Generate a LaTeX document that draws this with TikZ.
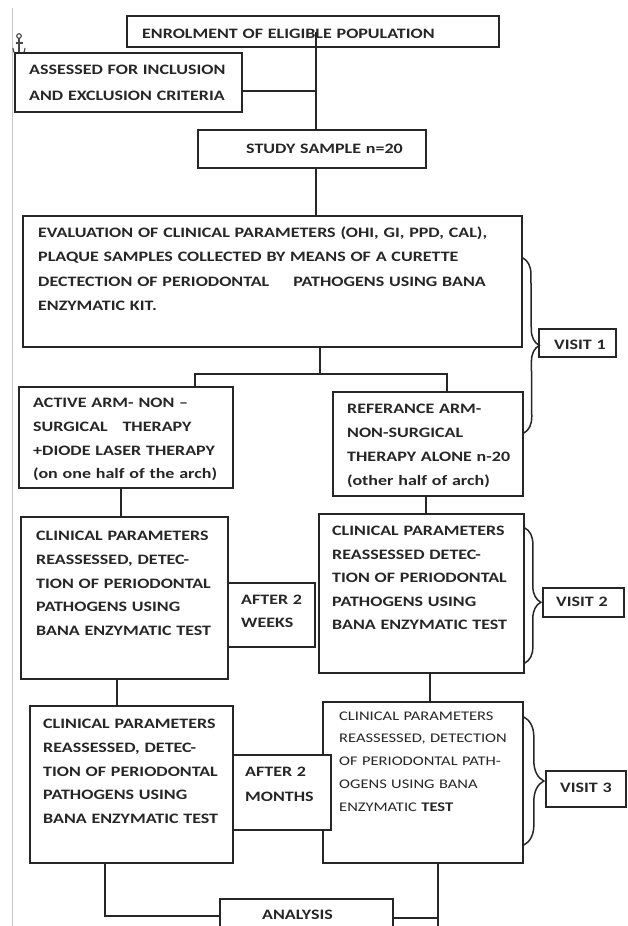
\documentclass[tikz,border=0pt]{standalone}
\usepackage{fontspec}
\setmainfont{Carlito}[FakeStretch=1.25]
\usetikzlibrary{fit,decorations.pathreplacing}
\definecolor{ink}{HTML}{262626}
\newcommand\myfont[2]{\fontsize{#1}{#2}\selectfont\bfseries}
\newcommand\myreg[2]{\fontsize{#1}{#2}\selectfont\mdseries}
\tikzset{
  box/.style={draw=ink, line width=1.7pt, inner sep=0pt, fill=white},
  txt/.style={inner sep=0pt, anchor=base west, text width=480pt, align=left, text=ink},
  conn/.style={draw=ink, line width=1.7pt},
  brc/.style={draw=ink, line width=1.5pt, decorate, decoration={brace, amplitude=#1}},
  brc/.default=16pt
}
\begin{document}
\begin{tikzpicture}[x=1pt,y=-1pt]
\useasboundingbox[fill=white] (0,0) rectangle (628,926);
% page margin line and anchor mark
\draw[gray!45, line width=0.8pt] (12.5,8) -- (12.5,926);
\begin{scope}[draw=ink!85, line width=1.1pt]
  \draw (19,36) circle[radius=2.3pt];
  \draw (19,38.3) -- (19,55);
  \draw (15.5,43) -- (22.5,43);
  \draw (13,48) .. controls (13,53) and (16,55) .. (19,55) .. controls (22,55) and (25,53) .. (25,48);
\end{scope}

% boxes
\node[box, fit={(127,16)(499,47)}] (enrol) {};
\node[box, fit={(15,53)(242,112)}] (assess) {};
\node[box, fit={(198,130)(426,168)}] (study) {};
\node[box, fit={(23,216)(522,347)}] (eval) {};
\node[box, fit={(539,329)(616,357)}] (visit1) {};
\node[box, fit={(19,387)(233,488)}] (active) {};
\node[box, fit={(333,392)(523,496)}] (ref) {};
\node[box, fit={(21,517)(228,679)}] (left2) {};
\node[box, fit={(228,583)(315,647)}] (weeks) {};
\node[box, fit={(319,514)(524,673)}] (right2) {};
\node[box, fit={(543,588)(624,617)}] (visit2) {};
\node[box, fit={(30,706)(233,863)}] (left3) {};
\node[box, fit={(323,702)(523,863)}] (right3) {};
\node[box, fit={(233,755)(331,830)}] (months) {};
\node[box, fit={(546,771)(626,807)}] (visit3) {};
\node[box, fit={(220,899)(393,940)}] (analysis) {};

% texts
\node[txt, font=\myfont{14.4}{24}] (tenrol) at (142,38) {ENROLMENT OF ELIGIBLE POPULATION};
\node[txt, font=\myfont{14.4}{26}] (tassess) at (29,74.6) {ASSESSED FOR INCLUSION\\AND EXCLUSION CRITERIA};
\node[txt, font=\myfont{14.4}{24}] (tstudy) at (246,153.6) {STUDY SAMPLE n=20};
\node[txt, font=\myfont{14.4}{24.3}] (teval) at (38,237.6) {EVALUATION OF CLINICAL PARAMETERS (OHI, GI, PPD, CAL),\\PLAQUE SAMPLES COLLECTED BY MEANS OF A CURETTE\\DECTECTION OF PERIODONTAL\hspace{24pt}PATHOGENS USING BANA\\ENZYMATIC KIT.};
\node[txt, font=\myfont{14.4}{24}] (tvisit1) at (554,349.6) {VISIT 1};
\node[txt, font=\myfont{14.4}{23.7}] (tactive) at (33,407.6) {ACTIVE ARM- NON --\\SURGICAL\hspace{10pt} THERAPY\\+DIODE LASER THERAPY\\(on one half of the arch)};
\node[txt, font=\myfont{14.4}{24}] (tref) at (347,413.6) {REFERANCE ARM-\\NON-SURGICAL\\THERAPY ALONE n-20\\(other half of arch)};
\node[txt, font=\myfont{14.4}{23.75}] (tleft2) at (36,540.6) {CLINICAL PARAMETERS\\REASSESSED, DETEC-\\TION OF PERIODONTAL\\PATHOGENS USING\\BANA ENZYMATIC TEST};
\node[txt, font=\myfont{14.4}{23}] (tweeks) at (241,604.6) {AFTER 2\\WEEKS};
\node[txt, font=\myfont{14.4}{23.5}] (tright2) at (332,535.6) {CLINICAL PARAMETERS\\REASSESSED DETEC-\\TION OF PERIODONTAL\\PATHOGENS USING\\BANA ENZYMATIC TEST};
\node[txt, font=\myfont{14.4}{24}] (tvisit2) at (556,606.6) {VISIT 2};
\node[txt, font=\myfont{14.4}{23.75}] (tleft3) at (43,728.6) {CLINICAL PARAMETERS\\REASSESSED, DETEC-\\TION OF PERIODONTAL\\PATHOGENS USING\\BANA ENZYMATIC TEST};
\node[txt, font=\myfont{14.4}{25}] (tmonths) at (245,776.6) {AFTER 2\\MONTHS};
\node[txt, font=\myreg{13.2}{22.75}] (tright3) at (339,720.2) {CLINICAL PARAMETERS\\REASSESSED, DETECTION\\OF PERIODONTAL PATH-\\OGENS USING BANA\\ENZYMATIC \textbf{TEST}};
\node[txt, font=\myfont{14.4}{24}] (tvisit3) at (560,792.6) {VISIT 3};
\node[txt, font=\myfont{14.4}{24}] (tanal) at (262,919.6) {ANALYSIS};

% connectors
\coordinate (j1) at (316,91);
\coordinate (s1) at (320,374);
\coordinate (s2) at (195,374);
\coordinate (s3) at (447,374);
\coordinate (b1) at (105,916);
\coordinate (b2) at (438,918);
\coordinate (b3) at (438,926);
\draw[conn] (enrol.center -| 316,0) -- (study.north -| 316,0);
\draw[conn] (assess.east |- j1) -- (j1);
\draw[conn] (study.south -| 316,0) -- (eval.north -| 316,0);
\draw[conn] (eval.south -| s1) -- (s1);
\draw[conn] (active.north -| s2) -- (s2) -- (s3) -- (ref.north -| s3);
\draw[conn] (active.south -| 121,0) -- (left2.north -| 121,0);
\draw[conn] (ref.south -| 426,0) -- (right2.north -| 426,0);
\draw[conn] (left2.south -| 117,0) -- (left3.north -| 117,0);
\draw[conn] (right2.south -| 430,0) -- (right3.north -| 430,0);
\draw[conn] (left3.south -| b1) -- (b1) -- (analysis.west |- b1);
\draw[conn] (right3.south -| b3) -- (b3);
\draw[conn] (analysis.east |- b2) -- (b2);

% braces
\draw[brc=16pt] (eval.east |- 0,258) -- (ref.east |- 0,433);
\draw[brc=16pt, decoration={aspect=0.55}] (right2.east |- 0,528) -- (right2.east |- 0,663);
\draw[brc=20pt] (right3.east |- 0,717) -- (right3.east |- 0,845);
\end{tikzpicture}
\end{document}
